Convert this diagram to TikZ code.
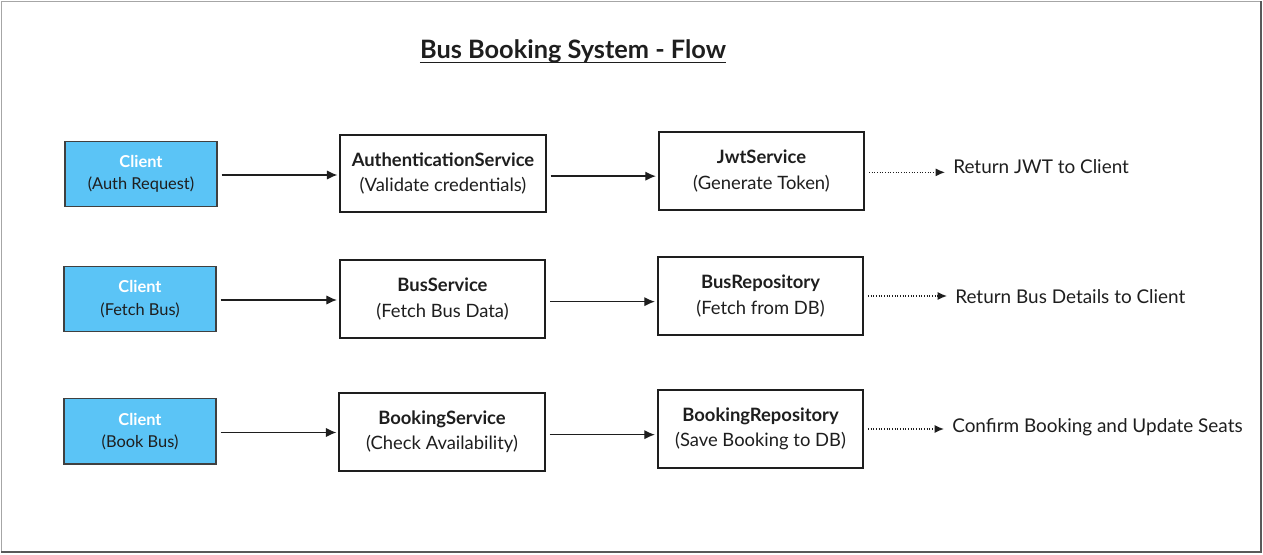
\documentclass[tikz,border=0pt]{standalone}
\usepackage{fontspec}
\setmainfont{Lato}
\usetikzlibrary{arrows.meta}
\definecolor{clientblue}{HTML}{5BC4F6}
\definecolor{ink}{HTML}{1E1E1E}
\begin{document}
\begin{tikzpicture}[x=0.75pt,y=-0.75pt,
  svc/.style={draw=ink, line width=1.3pt, fill=white, minimum width=154pt, minimum height=58pt, inner sep=0pt, align=center, font=\fontsize{13.8}{19}\selectfont, text=ink},
  client/.style={draw=black!75, line width=1pt, fill=clientblue, minimum width=114pt, minimum height=49pt, inner sep=0pt, align=center, font=\fontsize{12.3}{16.8}\selectfont, text=ink},
  lbl/.style={anchor=west, inner sep=0pt, font=\fontsize{14.2}{16}\selectfont, text=ink},
  flow/.style={draw=ink, line width=1pt, -{Latex[length=8pt,width=7pt]}, shorten <=3pt, shorten >=1.5pt},
  ret/.style={draw=ink, line width=1pt, dash pattern=on 0.75pt off 1.25pt, -{Latex[length=7pt,width=6pt]}, shorten <=3pt, shorten >=6pt},
  titlestyle/.style={inner sep=0pt, font=\fontsize{19}{22}\selectfont\bfseries, text=ink}
]
\useasboundingbox (0,0) rectangle (1263,555);
% frame
\draw[black!35, line width=0.6pt] (1,1) rectangle (1261,552);
\draw[black!65, line width=1.6pt] (1261,1) -- (1261,552) -- (1,552);

% title
\node[titlestyle] (title) at (573,51) {Bus Booking System - Flow};
\draw[ink, line width=1pt] ([yshift=-3.5pt]title.base west) -- ([yshift=-3.5pt]title.base east);

% row 1
\node[client] (c1) at (141,174) {\textcolor{white}{\bfseries Client}\\(Auth Request)};
\node[svc] (auth) at (443,173.5) {\textbf{AuthenticationService}\\(Validate credentials)};
\node[svc] (jwt) at (761.5,171) {\textbf{JwtService}\\(Generate Token)};
\node[lbl] (r1) at (953,167) {Return JWT to Client};
\draw[flow] ([yshift=-0.75pt]c1.east) -- ([yshift=-0.75pt]c1.east -| auth.west);
\draw[flow] ([yshift=-2pt]auth.east) -- ([yshift=-2pt]auth.east -| jwt.west);
\draw[ret] ([yshift=-1pt]jwt.east) -- ([yshift=-1pt]jwt.east -| r1.west);

% row 2
\node[client] (c2) at (140,299) {\textcolor{white}{\bfseries Client}\\(Fetch Bus)};
\node[svc] (bus) at (442.5,299) {\textbf{BusService}\\(Fetch Bus Data)};
\node[svc] (busrepo) at (760.5,296) {\textbf{BusRepository}\\(Fetch from DB)};
\node[lbl] (r2) at (955,297) {Return Bus Details to Client};
\draw[flow] ([yshift=-0.75pt]c2.east) -- ([yshift=-0.75pt]c2.east -| bus.west);
\draw[flow] ([yshift=-2pt]bus.east) -- ([yshift=-2pt]bus.east -| busrepo.west);
\draw[ret] (busrepo.east) -- (busrepo.east -| r2.west);

% row 3
\node[client] (c3) at (140,431.5) {\textcolor{white}{\bfseries Client}\\(Book Bus)};
\node[svc] (book) at (442,432) {\textbf{BookingService}\\(Check Availability)};
\node[svc] (bookrepo) at (760.5,429) {\textbf{BookingRepository}\\(Save Booking to DB)};
\node[lbl] (r3) at (952,427) {Confirm Booking and Update Seats};
\draw[flow] ([yshift=-0.75pt]c3.east) -- ([yshift=-0.75pt]c3.east -| book.west);
\draw[flow] ([yshift=-2pt]book.east) -- ([yshift=-2pt]book.east -| bookrepo.west);
\draw[ret] (bookrepo.east) -- (bookrepo.east -| r3.west);
\end{tikzpicture}
\end{document}
